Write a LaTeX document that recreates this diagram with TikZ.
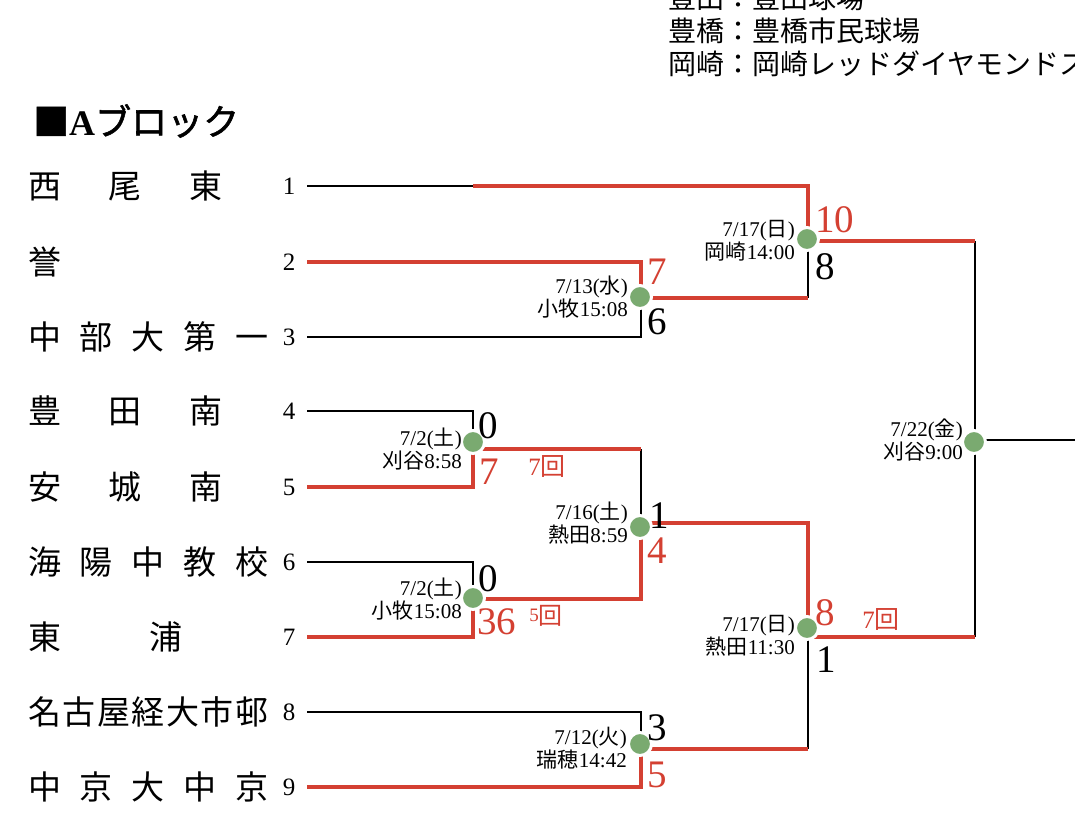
\documentclass[tikz,border=0pt]{standalone}
\usepackage{fontspec}
\setmainfont{Liberation Serif}
\newfontfamily\jp{Noto Sans CJK JP}
\newfontfamily\jpb{Noto Sans CJK JP}[FakeBold=1.5]
\definecolor{wred}{RGB}{212,64,50}
\definecolor{dgreen}{RGB}{122,170,112}
\begin{document}
\begin{tikzpicture}[x=1pt,y=-1pt,
  lose/.style={draw=black,line width=1.6pt},
  win/.style={draw=wred,line width=3.2pt},
  dot/.style={circle,fill=dgreen,draw=white,line width=3pt,minimum size=23pt,inner sep=0pt},
  team/.style={anchor=west,inner sep=0pt,font=\jp\fontsize{33}{33}\selectfont},
  num/.style={inner sep=0pt,font=\fontsize{25}{25}\selectfont},
  score/.style={anchor=west,inner sep=0pt,font=\fontsize{39}{39}\selectfont},
  wscore/.style={score,text=wred},
  date/.style={anchor=east,inner sep=0pt,align=right,font=\fontsize{21}{23}\selectfont},
  inn/.style={inner sep=0pt,text=wred,font=\fontsize{25}{25}\selectfont},
  hdr/.style={anchor=west,inner sep=0pt,font=\jp\fontsize{28}{28}\selectfont},
]
\useasboundingbox (0,0) rectangle (1075,832);
\clip (0,0) rectangle (1075,832);
\fill[white] (0,0) rectangle (1075,832);

% header
\node[hdr] (h1) at (668,-2) {豊田：豊田球場};
\node[hdr] (h2) at (668,31) {豊橋：豊橋市民球場};
\node[hdr] (h3) at (668,64) {岡崎：岡崎レッドダイヤモンドス};

% title
\node[anchor=west,inner sep=0pt,font=\fontsize{36}{36}\selectfont] (title) at (33,121) {{\jpb ■}{\bfseries A}{\jpb ブロック}};

% team names
\node[team] (n1) at (28,186) {\hbox to 194pt{西\hfill 尾\hfill 東}};
\node[team] (n2) at (28,262) {誉};
\node[team] (n3) at (28,337) {\hbox to 240pt{中\hfill 部\hfill 大\hfill 第\hfill 一}};
\node[team] (n4) at (28,411) {\hbox to 194pt{豊\hfill 田\hfill 南}};
\node[team] (n5) at (28,487) {\hbox to 194pt{安\hfill 城\hfill 南}};
\node[team] (n6) at (28,562) {\hbox to 240pt{海\hfill 陽\hfill 中\hfill 教\hfill 校}};
\node[team] (n7) at (28,637) {\hbox to 154pt{東\hfill 浦}};
\node[team] (n8) at (28,712) {\hbox to 240pt{名\hfill 古\hfill 屋\hfill 経\hfill 大\hfill 市\hfill 邨}};
\node[team] (n9) at (28,787) {\hbox to 240pt{中\hfill 京\hfill 大\hfill 中\hfill 京}};

% team numbers
\foreach \i/\y in {1/186,2/262,3/337,4/411,5/487,6/562,7/637,8/712,9/787}
  \node[num] (k\i) at (289,\y) {\i};

% coordinates
\coordinate (s1) at (307,186); \coordinate (s2) at (307,262); \coordinate (s3) at (307,337);
\coordinate (s4) at (307,411); \coordinate (s5) at (307,487); \coordinate (s6) at (307,562);
\coordinate (s7) at (307,637); \coordinate (s8) at (307,712); \coordinate (s9) at (307,787);
\coordinate (bye1) at (473,186);
\coordinate (At) at (473,411); \coordinate (Ab) at (473,487); \coordinate (Ao) at (473,449);
\coordinate (Bt) at (473,562); \coordinate (Bb) at (473,637); \coordinate (Bo) at (473,599);
\coordinate (Ct) at (641,262); \coordinate (Cb) at (641,337); \coordinate (Co) at (641,298);
\coordinate (Dt) at (641,712); \coordinate (Db) at (641,787); \coordinate (Do) at (641,749);
\coordinate (Et) at (641,449); \coordinate (Eb) at (641,599); \coordinate (Eo) at (641,523);
\coordinate (Ft) at (808,523); \coordinate (Fb) at (808,749); \coordinate (Fo) at (808,637);
\coordinate (Gt) at (808,186); \coordinate (Gb) at (808,298); \coordinate (Go) at (808,241);
\coordinate (Ht) at (975,241); \coordinate (Hb) at (975,637); \coordinate (Ho) at (975,440);
\coordinate (fin) at (1080,440);

% losing lines
\draw[lose] (s1)--(bye1);
\draw[lose] (s3)--(Cb)--(Co);
\draw[lose] (s4)--(At)--(Ao);
\draw[lose] (s6)--(Bt)--(Bo);
\draw[lose] (s8)--(Dt)--(Do);
\draw[lose] (Et)--(Eo);
\draw[lose] (Gb)--(Go);
\draw[lose] (Fb)--(Fo);
\draw[lose] (Ht)--(Hb);
\draw[lose] (Ho)--(fin);
% winning lines
\draw[win] (bye1)--(Gt)--(Go)--(Ht);
\draw[win] (s2)--(Ct)--(Co)--(Gb);
\draw[win] (s5)--(Ab)--(Ao)--(Et);
\draw[win] (s7)--(Bb)--(Bo)--(Eb)--(Eo)--(Ft)--(Fo)--(Hb);
\draw[win] (s9)--(Db)--(Do)--(Fb);

% match dots
\node[dot] (dA) at (473,442) {};
\node[dot] (dB) at (473,598) {};
\node[dot] (dC) at (640,297) {};
\node[dot] (dD) at (640,744) {};
\node[dot] (dE) at (640,527) {};
\node[dot] (dF) at (807,628) {};
\node[dot] (dG) at (807,239) {};
\node[dot] (dH) at (974,442) {};

% dates
\node[date] (tA) at (462,449) {7/2({\jp 土})\\{\jp 刈谷}8:58};
\node[date] (tB) at (462,599) {7/2({\jp 土})\\{\jp 小牧}15:08};
\node[date] (tC) at (628,297) {7/13({\jp 水})\\{\jp 小牧}15:08};
\node[date] (tD) at (627,748) {7/12({\jp 火})\\{\jp 瑞穂}14:42};
\node[date] (tE) at (628,523) {7/16({\jp 土})\\{\jp 熱田}8:59};
\node[date] (tF) at (795,636) {7/17({\jp 日})\\{\jp 熱田}11:30};
\node[date] (tG) at (795,241) {7/17({\jp 日})\\{\jp 岡崎}14:00};
\node[date] (tH) at (963,440) {7/22({\jp 金})\\{\jp 刈谷}9:00};

% scores
\node[score]  (a1) at (478,426) {0};
\node[wscore] (a2) at (479,472) {7};
\node[score]  (b1) at (478,579) {0};
\node[wscore] (b2) at (477,622) {36};
\node[wscore] (c1) at (647,272) {7};
\node[score]  (c2) at (647,322) {6};
\node[score]  (d1) at (647,728) {3};
\node[wscore] (d2) at (647,775) {5};
\node[score]  (e1) at (649,516) {1};
\node[wscore] (e2) at (647,551) {4};
\node[wscore] (f1) at (815,613) {8};
\node[score]  (f2) at (816,660) {1};
\node[wscore] (g1) at (815,220) {10};
\node[score]  (g2) at (815,267) {8};

% innings
\node[inn] (iA) at (547,466) {7{\jp 回}};
\node[inn] (iB) at (546,616) {\raisebox{3pt}{\fontsize{19}{19}\selectfont 5}{\jp\fontsize{24}{24}\selectfont 回}};
\node[inn] (iF) at (881,619) {7{\jp 回}};
\end{tikzpicture}
\end{document}
